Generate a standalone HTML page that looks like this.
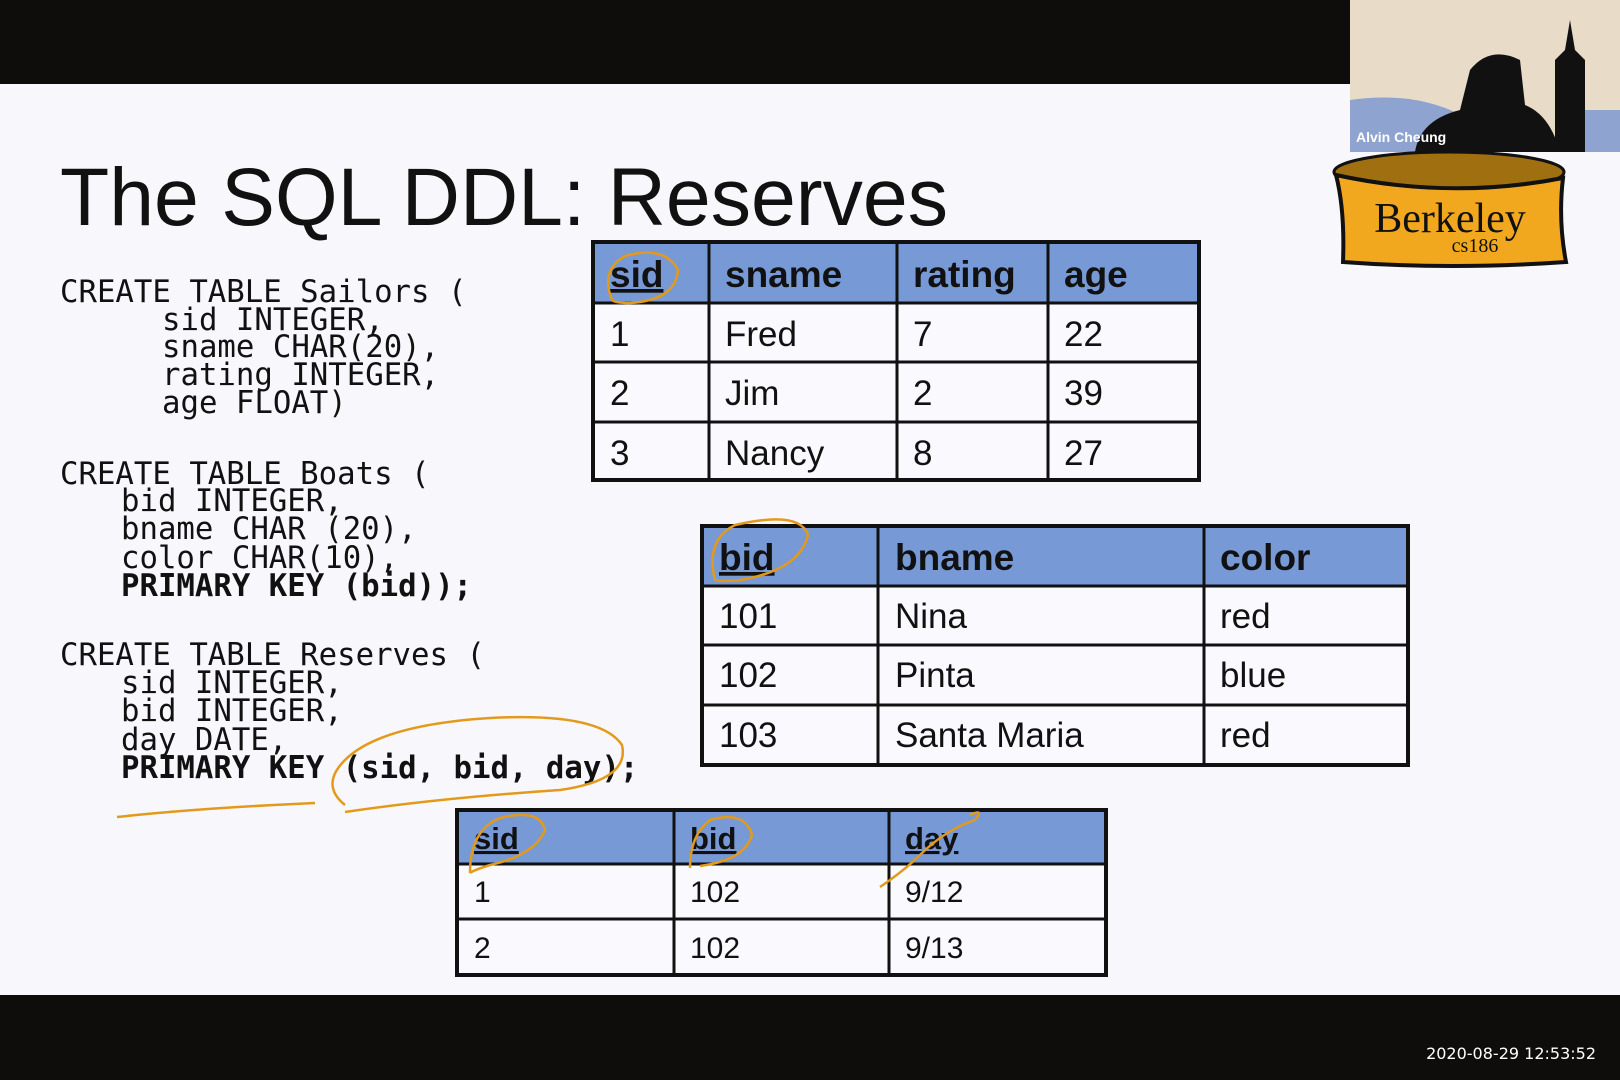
<!DOCTYPE html>
<html><head><meta charset="utf-8"><style>
html,body{margin:0;padding:0;width:1620px;height:1080px;overflow:hidden;background:#f8f8fc}
svg{display:block}
.code{font-family:"DejaVu Sans Mono","Liberation Mono",monospace;font-size:30.7px;fill:#111}
.h{font-family:"Liberation Sans",sans-serif;font-weight:bold;fill:#111}
.c{font-family:"Liberation Sans",sans-serif;fill:#111}
</style></head><body>
<svg width="1620" height="1080" viewBox="0 0 1620 1080" xmlns="http://www.w3.org/2000/svg">
<rect x="0" y="0" width="1620" height="1080" fill="#f8f8fc"/>
<rect x="0" y="0" width="1350" height="84" fill="#0f0c0c"/>
<rect x="0" y="995" width="1620" height="85" fill="#0f0c0c"/>
<text x="1596" y="1059" text-anchor="end" font-family="DejaVu Sans,sans-serif" font-size="16" fill="#fff">2020-08-29 12:53:52</text>

<!-- webcam -->
<rect x="1350" y="0" width="270" height="152" fill="#e8dcc8"/>
<path d="M1350 100 Q1420 90 1470 120 L1470 152 L1350 152Z" fill="#8ea3cf"/>
<path d="M1415 152 Q1420 120 1460 110 L1470 70 Q1490 45 1520 60 L1525 105 Q1550 115 1560 152Z" fill="#111"/>
<path d="M1555 152 L1555 60 L1565 50 L1570 20 L1575 50 L1585 60 L1585 152Z" fill="#111"/>
<rect x="1585" y="110" width="35" height="42" fill="#8ea3cf"/>
<text x="1356" y="142" font-family="Liberation Sans,sans-serif" font-size="14" font-weight="bold" fill="#fff">Alvin Cheung</text>
<!-- logo -->
<ellipse cx="1449" cy="172" rx="115" ry="20" fill="#a07010" stroke="#111" stroke-width="3"/>
<path d="M1336 175 Q1345 210 1343 262 Q1450 270 1566 262 Q1558 220 1563 178 Q1450 200 1336 175Z" fill="#f2a81e" stroke="#111" stroke-width="4"/>
<text x="1450" y="232" text-anchor="middle" font-family="Liberation Serif,serif" font-size="42" fill="#111">Berkeley</text>
<text x="1475" y="252" text-anchor="middle" font-family="Liberation Serif,serif" font-size="20" fill="#111">cs186</text>

<text x="60" y="225" font-family="Liberation Sans,sans-serif" font-size="82" fill="#111" textLength="888" lengthAdjust="spacingAndGlyphs">The SQL DDL: Reserves</text>

<g class="code">
<text x="60" y="302">CREATE TABLE Sailors (</text>
<text x="162" y="330">sid INTEGER,</text>
<text x="162" y="357">sname CHAR(20),</text>
<text x="162" y="385">rating INTEGER,</text>
<text x="162" y="413">age FLOAT)</text>
<text x="60" y="484">CREATE TABLE Boats (</text>
<text x="121" y="511">bid INTEGER,</text>
<text x="121" y="539">bname CHAR (20),</text>
<text x="121" y="568">color CHAR(10),</text>
<text x="121" y="596" font-weight="bold">PRIMARY KEY (bid));</text>
<text x="60" y="665">CREATE TABLE Reserves (</text>
<text x="121" y="693">sid INTEGER,</text>
<text x="121" y="721">bid INTEGER,</text>
<text x="121" y="750">day DATE,</text>
<text x="121" y="778" font-weight="bold">PRIMARY KEY (sid, bid, day);</text>
</g>

<!-- Table 1 -->
<rect x="593" y="242" width="606" height="61" fill="#7799d6"/>
<rect x="593" y="303" width="606" height="177" fill="#fafafe"/>
<g stroke="#111" stroke-width="3" fill="none">
<rect x="593" y="242" width="606" height="238" stroke-width="4"/>
<line x1="709" y1="242" x2="709" y2="480"/><line x1="897" y1="242" x2="897" y2="480"/><line x1="1048" y1="242" x2="1048" y2="480"/>
<line x1="593" y1="303" x2="1199" y2="303"/><line x1="593" y1="362" x2="1199" y2="362"/><line x1="593" y1="422" x2="1199" y2="422"/>
</g>
<g class="h" font-size="37"><text x="610" y="287" text-decoration="underline">sid</text><text x="725" y="287">sname</text><text x="913" y="287">rating</text><text x="1064" y="287">age</text></g>
<g class="c" font-size="35"><text x="610" y="346">1</text><text x="725" y="346">Fred</text><text x="913" y="346">7</text><text x="1064" y="346">22</text>
<text x="610" y="405">2</text><text x="725" y="405">Jim</text><text x="913" y="405">2</text><text x="1064" y="405">39</text>
<text x="610" y="465">3</text><text x="725" y="465">Nancy</text><text x="913" y="465">8</text><text x="1064" y="465">27</text></g>

<!-- Table 2 -->
<rect x="702" y="526" width="706" height="60" fill="#7799d6"/>
<rect x="702" y="586" width="706" height="179" fill="#fafafe"/>
<g stroke="#111" stroke-width="3" fill="none">
<rect x="702" y="526" width="706" height="239" stroke-width="4"/>
<line x1="878" y1="526" x2="878" y2="765"/><line x1="1204" y1="526" x2="1204" y2="765"/>
<line x1="702" y1="586" x2="1408" y2="586"/><line x1="702" y1="645" x2="1408" y2="645"/><line x1="702" y1="705" x2="1408" y2="705"/>
</g>
<g class="h" font-size="37"><text x="719" y="570" text-decoration="underline">bid</text><text x="895" y="570">bname</text><text x="1220" y="570">color</text></g>
<g class="c" font-size="35"><text x="719" y="628">101</text><text x="895" y="628">Nina</text><text x="1220" y="628">red</text>
<text x="719" y="687">102</text><text x="895" y="687">Pinta</text><text x="1220" y="687">blue</text>
<text x="719" y="747">103</text><text x="895" y="747">Santa Maria</text><text x="1220" y="747">red</text></g>

<!-- Table 3 -->
<rect x="457" y="810" width="649" height="54" fill="#7799d6"/>
<rect x="457" y="864" width="649" height="111" fill="#fafafe"/>
<g stroke="#111" stroke-width="3" fill="none">
<rect x="457" y="810" width="649" height="165" stroke-width="4"/>
<line x1="674" y1="810" x2="674" y2="975"/><line x1="889" y1="810" x2="889" y2="975"/>
<line x1="457" y1="864" x2="1106" y2="864"/><line x1="457" y1="919" x2="1106" y2="919"/>
</g>
<g class="h" font-size="31"><text x="474" y="849" text-decoration="underline">sid</text><text x="690" y="849" text-decoration="underline">bid</text><text x="905" y="849" text-decoration="underline">day</text></g>
<g class="c" font-size="30"><text x="474" y="902">1</text><text x="690" y="902">102</text><text x="905" y="902">9/12</text>
<text x="474" y="958">2</text><text x="690" y="958">102</text><text x="905" y="958">9/13</text></g>

<!-- annotations -->
<g stroke="#e39a1a" stroke-width="2.5" fill="none">
<path d="M612 300 Q600 270 625 256 Q665 245 678 270 Q676 300 630 303 Q615 303 612 300"/>
<path d="M715 580 Q705 540 735 525 Q800 510 808 535 Q800 570 740 580 Q720 582 715 580"/>
<path d="M470 873 Q470 830 500 818 Q540 808 545 830 Q535 855 490 865 Q474 870 470 873"/>
<path d="M690 868 Q690 835 710 820 Q745 810 752 835 Q745 860 700 866"/>
<path d="M880 887 Q905 870 920 855 Q945 830 975 820 Q985 808 970 815"/>
<path d="M117 817 Q200 808 315 803"/>
<path d="M345 805 Q320 785 345 760 Q380 725 490 718 Q600 712 622 745 Q630 780 560 790 Q440 798 345 812"/>
</g>
</svg>
</body></html>
